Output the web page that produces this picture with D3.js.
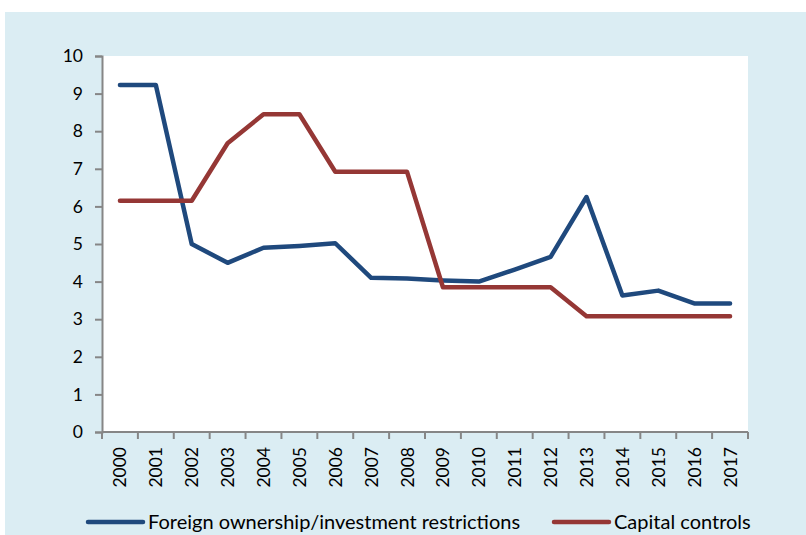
<!DOCTYPE html>
<html>
<head>
<meta charset="utf-8">
<script src="https://cdn.jsdelivr.net/npm/d3@7"></script>
<style>
  body { margin: 0; background: #fff; }
  text { font-family: Lato, "Open Sans", sans-serif; fill: #000; }
</style>
</head>
<body>
<div id="chart"></div>
<script>
// chart data
var years = ["2000", "2001", "2002", "2003", "2004", "2005", "2006", "2007", "2008",
             "2009", "2010", "2011", "2012", "2013", "2014", "2015", "2016", "2017"];
var foreignOwnership = [9.23, 9.23, 5.0, 4.5, 4.9, 4.95, 5.02, 4.1, 4.08,
                        4.03, 4.0, 4.32, 4.66, 6.25, 3.63, 3.76, 3.42, 3.42];
var capitalControls = [6.15, 6.15, 6.15, 7.68, 8.45, 8.45, 6.92, 6.92, 6.92,
                       3.85, 3.85, 3.85, 3.85, 3.08, 3.08, 3.08, 3.08, 3.08];
var yTicks = [0, 1, 2, 3, 4, 5, 6, 7, 8, 9, 10];
var seriesNames = ["Foreign ownership/investment restrictions", "Capital controls"];

var width = 806, height = 535;
var plot = { left: 102, right: 748, top: 56, bottom: 432 };
var blue = "#1f497d", red = "#953735", axisGray = "#868686";

var svg = d3.select("#chart").append("svg")
    .attr("width", width)
    .attr("height", height);

// background panel
svg.append("rect")
    .attr("x", 5).attr("y", 12)
    .attr("width", width - 5).attr("height", height - 12)
    .attr("fill", "#dbedf3");

svg.append("rect")
    .attr("x", plot.left).attr("y", plot.top)
    .attr("width", plot.right - plot.left).attr("height", plot.bottom - plot.top)
    .attr("fill", "#fff");

var x = d3.scaleBand().domain(years).range([plot.left, plot.right]);
var y = d3.scaleLinear().domain([0, 10]).range([plot.bottom, plot.top]);

// y axis
var yAxis = svg.append("g")
    .attr("transform", "translate(" + plot.left + ",0)")
    .call(d3.axisLeft(y).tickValues(yTicks).tickSize(7).tickPadding(12));
yAxis.select(".domain").attr("stroke", axisGray).attr("stroke-width", 2);
yAxis.selectAll(".tick line").attr("stroke", axisGray).attr("stroke-width", 2);
yAxis.selectAll(".tick text").style("font-size", "17.5px").attr("fill", "#000");

// x axis: ticks at band boundaries
var xAxis = svg.append("g")
    .attr("transform", "translate(0," + plot.bottom + ")");
xAxis.append("line")
    .attr("x1", plot.left).attr("x2", plot.right)
    .attr("stroke", axisGray).attr("stroke-width", 2);
var bounds = years.map(function (d) { return x(d); }).concat([plot.right]);
xAxis.selectAll(".xt")
    .data(bounds)
    .enter().append("line")
    .attr("x1", function (d) { return d; })
    .attr("x2", function (d) { return d; })
    .attr("y1", 0).attr("y2", 7)
    .attr("stroke", axisGray).attr("stroke-width", 2);
xAxis.selectAll(".xl")
    .data(years)
    .enter().append("text")
    .attr("transform", function (d) {
        return "translate(" + (x(d) + x.bandwidth() / 2 + 6.5) + ",15) rotate(-90)";
    })
    .attr("text-anchor", "end")
    .style("font-size", "17.5px")
    .text(function (d) { return d; });

// lines
var line = d3.line()
    .x(function (d, i) { return x(years[i]) + x.bandwidth() / 2; })
    .y(function (d) { return y(d); });

[[foreignOwnership, blue], [capitalControls, red]].forEach(function (s) {
    svg.append("path")
        .datum(s[0])
        .attr("d", line)
        .attr("fill", "none")
        .attr("stroke", s[1])
        .attr("stroke-width", 4.5)
        .attr("stroke-linejoin", "round")
        .attr("stroke-linecap", "round");
});

// legend
var legendPos = [88, 554];
var legend = svg.selectAll(".legend")
    .data(seriesNames)
    .enter().append("g")
    .attr("transform", function (d, i) { return "translate(" + legendPos[i] + ",522)"; });
legend.append("line")
    .attr("x1", 0).attr("x2", 55)
    .attr("stroke", function (d, i) { return i === 0 ? blue : red; })
    .attr("stroke-width", 4.5)
    .attr("stroke-linecap", "round");
legend.append("text")
    .attr("x", 60)
    .attr("dy", "0.35em")
    .style("font-size", "20px")
    .text(function (d) { return d; });
</script>
</body>
</html>
